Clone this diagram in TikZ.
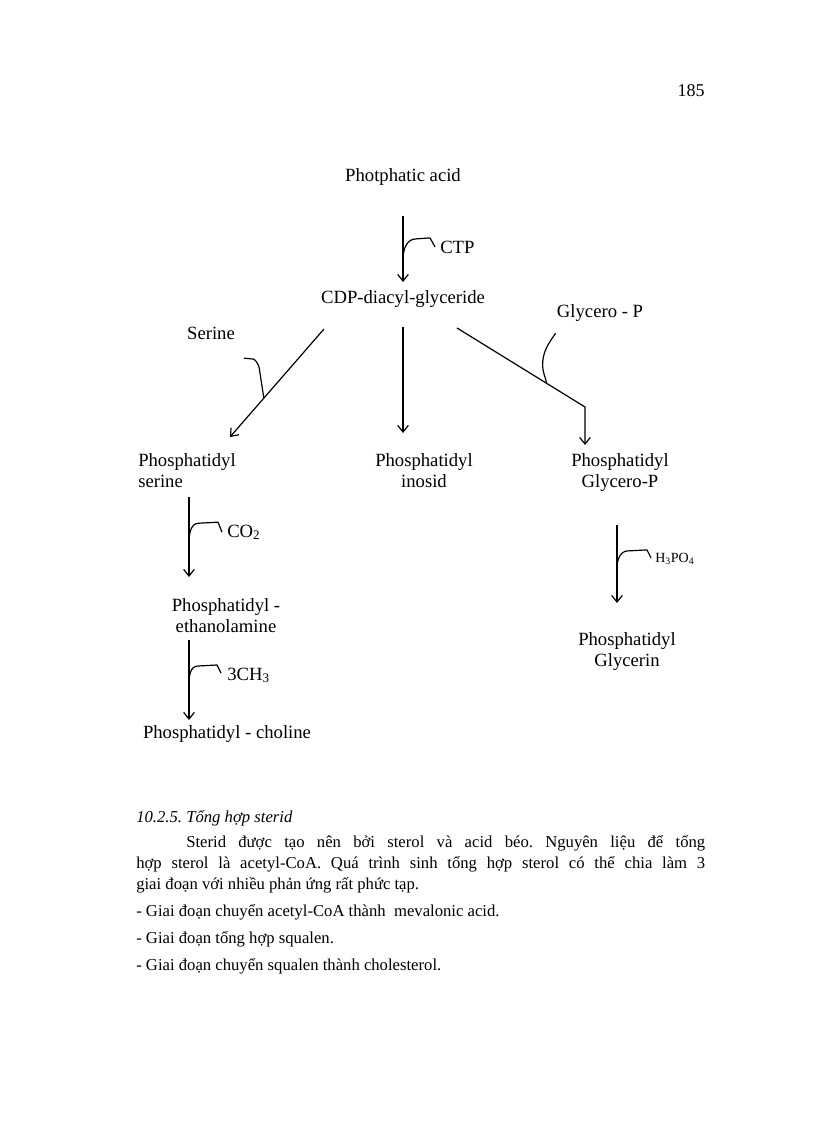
\documentclass[tikz,border=0pt]{standalone}
\usepackage{fontspec}
\setmainfont{Liberation Serif}
\usetikzlibrary{arrows.meta,calc}

\tikzset{
  arr/.style={line width=0.9pt,-{Straight Barb[length=5pt,width=8pt]}},
  hook/.style={line width=0.9pt,line join=round},
  chem/.style={inner sep=0pt,font=\fontsize{14}{15.5}\selectfont,align=center},
  side/.style={inner sep=0pt,font=\fontsize{14}{15.5}\selectfont,anchor=base west},
}

\begin{document}
\frenchspacing
\begin{tikzpicture}[x=0.75pt,y=-0.75pt]
\useasboundingbox (0,0) rectangle (816,1123);

\node[inner sep=0pt,anchor=base east,font=\fontsize{13.5}{16}\selectfont] (page) at (705,97) {185};

% compounds (base = last line)
\node[chem,anchor=base] (acid) at (403,182) {Photphatic acid};
\node[chem,anchor=base] (cdp) at (403,303) {CDP-diacyl-glyceride};
\node[chem,anchor=base] (serine) at (211,339) {Serine};
\node[chem,anchor=base] (glyp) at (600,317) {Glycero - P};
\node[chem,anchor=base west,align=left] (pser) at (138,487) {Phosphatidyl\\serine};
\node[chem,anchor=base] (pino) at (424,487) {Phosphatidyl\\inosid};
\node[chem,anchor=base] (pgly) at (620,487) {Phosphatidyl\\Glycero-P};
\node[chem,anchor=base] (peth) at (226,632) {Phosphatidyl -\\ethanolamine};
\node[chem,anchor=base] (pcho) at (227,738) {Phosphatidyl - choline};
\node[chem,anchor=base] (pglc) at (627,666) {Phosphatidyl\\Glycerin};

\node[side] (ctp) at (440,253) {CTP};
\node[side] (co2) at (227,537) {CO\textsubscript{2}};
\node[side] (ch3) at (227,680) {3CH\textsubscript{3}};
\node[side,font=\fontsize{10.5}{12}\selectfont] (h3po4) at (655,562) {H\textsubscript{3}PO\textsubscript{4}};

% main arrows
\draw[arr] ($(acid.base)+(0,34)$) -- coordinate[pos=0.65] (j1) ($(cdp.base)+(0,-21)$);
\draw[arr] ($(cdp.base)+(-79,26)$) -- coordinate[pos=0.64] (j2) ($(pser.base west)+(92,-50)$);
\draw[arr] ($(cdp.base)+(0,24)$) -- ($(pino.base)+(-21,-54)$);
\draw[arr] ($(cdp.base)+(54,25)$) -- coordinate[pos=0.7] (j3) ($(pgly.base)+(-35,-80)$) -- ($(pgly.base)+(-35,-42)$);
\draw[arr] ($(pser.base west)+(51,10)$) -- coordinate[pos=0.59] (j4) ($(peth.base)+(-37,-55)$);
\draw[arr] ($(peth.base)+(-37,8)$) -- coordinate[pos=0.55] (j5) ($(pcho.base)+(-38,-18)$);
\draw[arr] ($(pgly.base)+(-3,38)$) -- coordinate[pos=0.55] (j6) ($(pglc.base)+(-10,-63)$);

% side inputs
\draw[hook] (j1) to[out=90,in=180] ++(13,-20) -- ++(14,-1) -- ++(5,9);
\draw[hook] (j2) -- ++(-4,-26) to[out=95,in=-40] ++(-6,-13) -- ++(-10,-1);
\draw[hook] (j3) to[out=100,in=-90] ++(-4,-18) to[out=90,in=-125] ++(13,-32);
\draw[hook] (j4) to[out=90,in=180] ++(10,-21) -- ++(19,-1) -- ++(4,10);
\draw[hook] (j5) to[out=90,in=180] ++(9,-18) -- ++(19,-1) -- ++(4,8);
\draw[hook] (j6) to[out=90,in=180] ++(11,-17) -- ++(19,-1) -- ++(4,8);

\node[inner sep=0pt,anchor=base west,font=\fontsize{12.5}{15.4}\selectfont\itshape] (head) at (136,822) {10.2.5. Tổng hợp sterid};
\node[inner sep=0pt,anchor=base west,align=left,font=\fontsize{12.5}{15.4}\selectfont] (body) at (136,970)
  {\hspace*{37.5pt}\makebox[389.25pt][s]{Sterid được tạo nên bởi sterol và acid béo. Nguyên liệu để tổng}\\
   \makebox[426.75pt][s]{hợp sterol là acetyl-CoA. Quá trình sinh tổng hợp sterol có thể chia làm 3}\\
   giai đoạn với nhiều phản ứng rất phức tạp.\\[4.85pt]
   - Giai đoạn chuyển acetyl-CoA thành\ \ mevalonic acid.\\[4.85pt]
   - Giai đoạn tổng hợp squalen.\\[4.85pt]
   - Giai đoạn chuyển squalen thành cholesterol.};

\end{tikzpicture}
\end{document}
